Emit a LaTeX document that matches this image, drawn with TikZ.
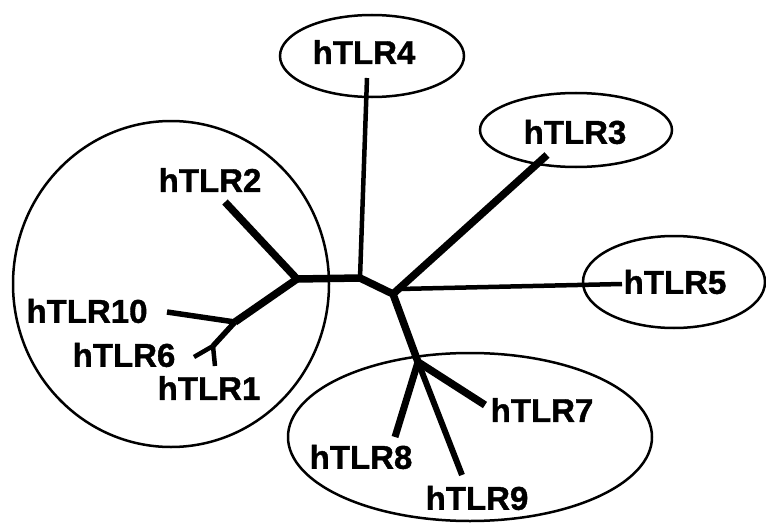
\documentclass[tikz,border=0pt]{standalone}
\usepackage{fontspec}
\setmainfont{Liberation Sans}[BoldFeatures={FakeBold=1.2}]
\tikzset{
  leaf/.style={font=\fontsize{33}{36}\selectfont\bfseries, inner sep=0pt},
  branch/.style={line width=7.5pt, line join=round},
  twig/.style={line width=4.5pt, line join=round},
  clade/.style={line width=2.5pt}
}

\begin{document}
\begin{tikzpicture}[x=1pt, y=-1pt]
\useasboundingbox (0,0) rectangle (766,527);
% inner junctions of the tree
\coordinate (a) at (297,279);
\coordinate (b) at (360,278);
\coordinate (c) at (393,294);
\coordinate (c5) at (399,289);
\coordinate (d) at (418,362);
\coordinate (e) at (235,322);
\coordinate (f) at (213,346);
% branch tips
\coordinate (t1) at (215,366);
\coordinate (t2) at (225,202);
\coordinate (t3) at (547,155);
\coordinate (t4) at (367,78);
\coordinate (t5) at (622,284);
\coordinate (t6) at (194,357);
\coordinate (t7) at (485,405);
\coordinate (t8) at (395,437);
\coordinate (t9) at (462,475);
\coordinate (t10) at (167,312);
% receptor names
\node[leaf] (n1) at (209,388) {hTLR1};
\node[leaf] (n2) at (210,180) {hTLR2};
\node[leaf] (n3) at (575,132) {hTLR3};
\node[leaf] (n4) at (364,52) {hTLR4};
\node[leaf] (n5) at (675,282) {hTLR5};
\node[leaf] (n6) at (124,355) {hTLR6};
\node[leaf] (n7) at (542,410) {hTLR7};
\node[leaf] (n8) at (361,457) {hTLR8};
\node[leaf] (n9) at (477,498) {hTLR9};
\node[leaf] (n10) at (87,311) {hTLR10};
% groups
\draw[clade] (171,284) ellipse [x radius=158pt, y radius=163pt];
\draw[clade] (372,56) ellipse [x radius=92pt, y radius=41pt];
\draw[clade] (576,130) ellipse [x radius=96pt, y radius=37pt];
\draw[clade] (674,282) ellipse [x radius=91pt, y radius=46pt];
\draw[clade] (470,437) ellipse [x radius=182pt, y radius=84pt];
% tree
\draw[branch] (t2) -- (a) -- (b) -- (c) -- (d) -- (t7);
\draw[branch] (a) -- (e);
\draw[branch] (c) -- (t3);
\draw[branch, line width=7pt] (d) -- (t8);
\draw[branch, line width=6pt] (d) -- (t9);
\draw[twig] (b) -- (t4);
\draw[twig] (c5) -- (t5);
\draw[twig, line width=5.5pt] (e) -- (t10);
\draw[twig, line width=5.5pt] (e) -- (f);
\draw[twig] (f) -- (t6);
\draw[twig] (f) -- (t1);
\end{tikzpicture}
\end{document}
